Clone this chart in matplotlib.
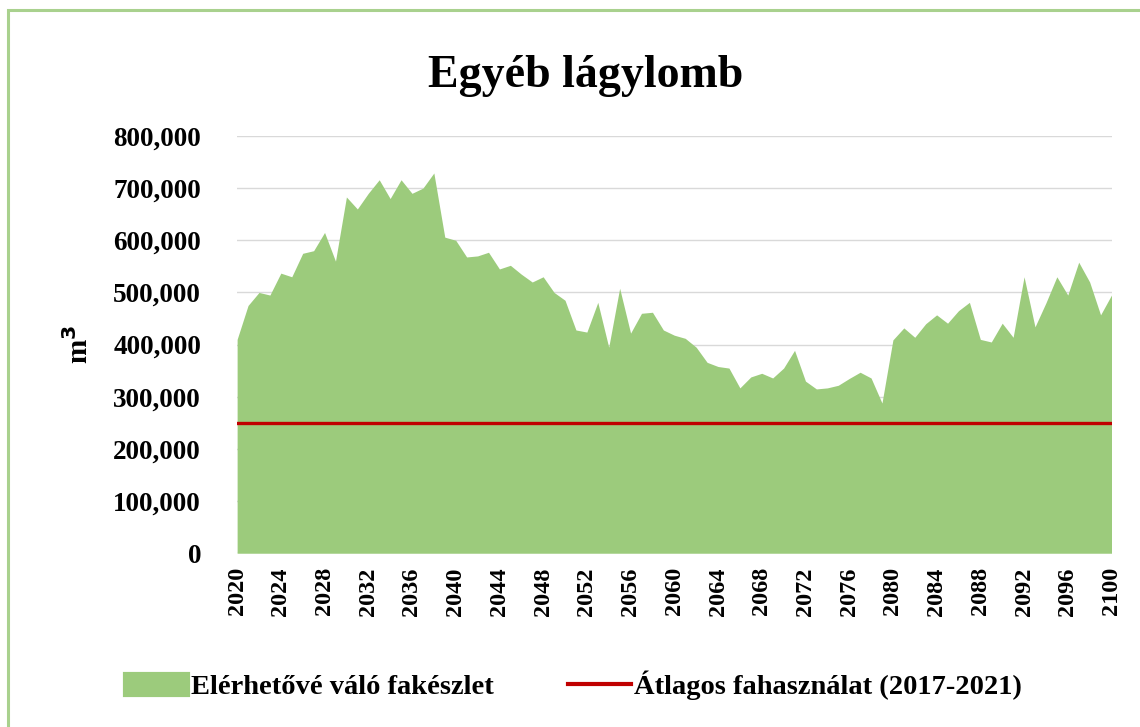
import matplotlib
matplotlib.use("Agg")
import matplotlib.pyplot as plt
from matplotlib.patches import Rectangle
from matplotlib.ticker import FuncFormatter

plt.rcParams['font.family'] = ['Liberation Serif', 'DejaVu Serif']
plt.rcParams['font.weight'] = 'bold'

years = list(range(2020, 2101))
stock = [
    410000, 475000, 500000, 495000, 537000, 530000, 575000, 580000, 615000, 560000,  # 2020-2029
    683000, 660000, 690000, 716000, 680000, 716000, 690000, 700000, 729000, 606000,  # 2030-2039
    600000, 568000, 570000, 577000, 545000, 552000, 535000, 520000, 530000, 500000,  # 2040-2049
    485000, 428000, 424000, 481000, 395000, 508000, 422000, 460000, 462000, 428000,  # 2050-2059
    418000, 412000, 395000, 366000, 358000, 355000, 317000, 338000, 345000, 336000,  # 2060-2069
    355000, 389000, 330000, 315000, 317000, 322000, 335000, 347000, 336000, 288000,  # 2070-2079
    409000, 432000, 414000, 440000, 457000, 441000, 465000, 481000, 410000, 405000,  # 2080-2089
    441000, 414000, 530000, 434000, 480000, 530000, 495000, 558000, 520000, 457000,  # 2090-2099
    495000,                                                                          # 2100
]
avg_use = 250000
xtick_years = list(range(2020, 2101, 4))
yticks = list(range(0, 800001, 100000))

title = "Egyéb lágylomb"
label_stock = "Elérhetővé váló fakészlet"
label_avg = "Átlagos fahasználat (2017-2021)"

fig = plt.figure(figsize=(11.4, 7.27), dpi=100)
fig.patch.set_facecolor('white')
ax = fig.add_axes([0.208, 0.239, 0.767, 0.574])

green = '#9CCB7C'
red = '#C00000'

ax.fill_between(years, stock, 0, color=green, linewidth=0, label=label_stock, zorder=2)
ax.plot([years[0], years[-1]], [avg_use, avg_use], color=red, linewidth=2.4,
        label=label_avg, zorder=3)

ax.set_xlim(2020, 2100)
ax.set_ylim(0, 800000)
ax.set_yticks(yticks)
ax.yaxis.set_major_formatter(FuncFormatter(lambda v, p: f"{int(v):,}"))
ax.set_xticks(xtick_years)
ax.set_xticklabels([str(y) for y in xtick_years], rotation=90)
ax.tick_params(axis='y', length=0, labelsize=19.5, pad=26)
ax.tick_params(axis='x', length=0, labelsize=17.5, pad=10)
for lab in ax.get_xticklabels() + ax.get_yticklabels():
    lab.set_fontweight('bold')

ax.grid(axis='y', color='#D9D9D9', linewidth=1, zorder=1)
ax.set_axisbelow(True)
for s in ax.spines.values():
    s.set_visible(False)

ax.set_ylabel("m$^\\mathbf{3}$", fontsize=21, fontweight='bold', labelpad=14)

fig.text(0.514, 0.895, title, ha='center', va='center', fontsize=33, fontweight='bold')

leg = fig.legend(loc='center', bbox_to_anchor=(0.503, 0.057), ncol=2, frameon=False,
                 handlelength=2.2, handleheight=0.75, handletextpad=0.12,
                 columnspacing=2.6, prop={'weight': 'bold', 'size': 20.5})
for h in leg.legend_handles:
    if hasattr(h, 'set_linewidth'):
        h.set_linewidth(3)

# light green frame around chart
fig.patches.append(Rectangle((8 / 1140, -0.05), 1.2, (727 - 10) / 727 + 0.05,
                             transform=fig.transFigure, fill=False,
                             edgecolor='#A9D18E', linewidth=2.2, zorder=0))

fig.savefig("out.png", dpi=100, facecolor='white')
